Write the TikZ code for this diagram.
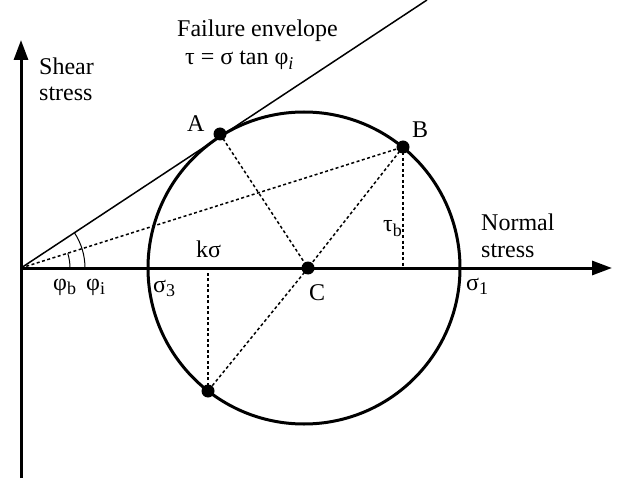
\documentclass[tikz,border=0pt]{standalone}
\usepackage{fontspec}
\setmainfont{Liberation Serif}
\usetikzlibrary{arrows.meta}
\newcommand\lowsub[1]{\raisebox{-0.2em}{\fontsize{18}{18}\selectfont #1}}
\begin{document}
\begin{tikzpicture}[x=1pt,y=-1pt,
  lbl/.style={font=\fontsize{24}{27}\selectfont, inner sep=0pt, anchor=base west},
  dotn/.style={circle, fill=black, inner sep=0pt, minimum size=13pt},
  axisline/.style={line width=3pt, -{Triangle[length=20pt,width=14pt]}},
  dotline/.style={line width=1.5pt, dash pattern=on 3pt off 2.5pt},
  thinline/.style={line width=1.5pt},
  anglearc/.style={line width=1pt}]
\useasboundingbox (0,0) rectangle (623,486);
% coordinates
\coordinate (O) at (21,268);
\coordinate (Xend) at (612,268);
\coordinate (Ybot) at (21,478);
\coordinate (Ytop) at (21,40);
\coordinate (Eend) at (427,0);
\coordinate (Bfoot) at (403,268);
\coordinate (Kfoot) at (208,268);
% axes
\draw[axisline] (O) -- (Xend);
\draw[axisline] (Ybot) -- (Ytop);
% circle
\node[circle, draw, line width=3pt, minimum size=312pt, inner sep=0pt] (M) at (304,268) {};
% failure envelope
\draw[thinline] (O) -- (Eend);
% points
\node[dotn] (A) at (220,134) {};
\node[dotn] (B) at (403,147) {};
\node[dotn] (C) at (308,268) {};
\node[dotn] (D) at (208,391) {};
% dotted lines
\draw[dotline] (O) -- (B.center);
\draw[dotline] (A.center) -- (C.center);
\draw[dotline] (B.center) -- (C.center) -- (D.center);
\draw[dotline] (D.center) -- (Kfoot);
\draw[dotline] (B.center) -- (Bfoot);
% angle arcs
\draw[anglearc] ([shift={(49,0)}]O) arc[start angle=0, end angle=-17.4, radius=49];
\draw[anglearc] ([shift={(64,0)}]O) arc[start angle=0, end angle=-33.4, radius=64];
% labels
\node[lbl] (tfe) at (177,37) {Failure envelope};
\node[lbl] (teq) at (185,65) {τ = σ tan φ\lowsub{\itshape i}};
\node[lbl] (tsh1) at (39,75) {Shear};
\node[lbl] (tsh2) at (39,101) {stress};
\node[lbl] (tA) at (187,132) {A};
\node[lbl] (tB) at (412,138) {B};
\node[lbl] (tC) at (309,300) {C};
\node[lbl] (tks) at (196,257) {kσ};
\node[lbl] (ttb) at (383,232) {τ\lowsub{b}};
\node[lbl] (tn1) at (481,230) {Normal};
\node[lbl] (tn2) at (481,257) {stress};
\node[lbl] (ts1) at (466,290) {σ\lowsub{1}};
\node[lbl] (ts3) at (153,292) {σ\lowsub{3}};
\node[lbl] (tpb) at (53,290) {φ\lowsub{b}};
\node[lbl] (tpi) at (86,290) {φ\lowsub{i}};
\end{tikzpicture}
\end{document}
